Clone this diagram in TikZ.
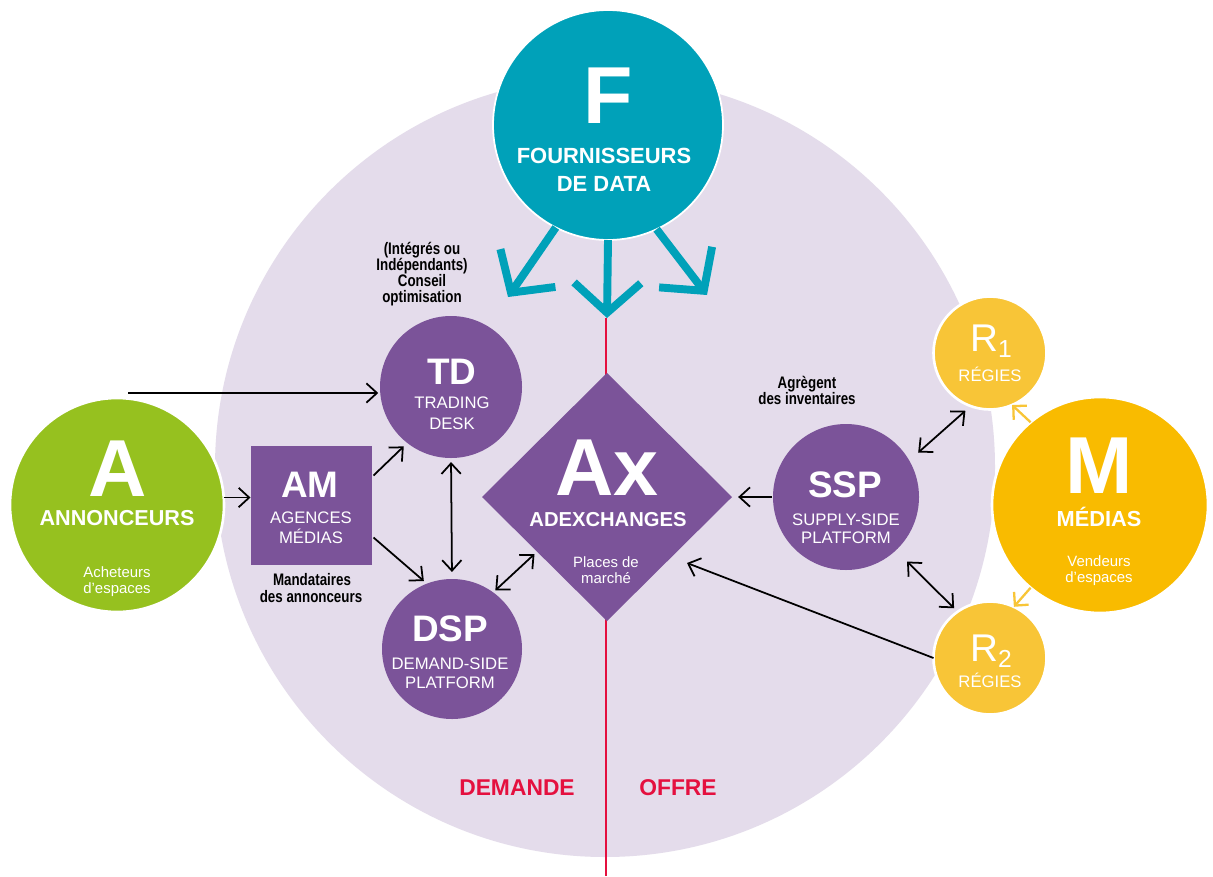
\documentclass[tikz,border=0pt]{standalone}
\usepackage{fontspec}
\setmainfont{Liberation Sans}
\newfontfamily\condfont[FakeStretch=0.8]{Liberation Sans}
\usetikzlibrary{shapes.geometric,arrows.meta,calc}
\definecolor{lav}{HTML}{E4DCEB}
\definecolor{tealc}{HTML}{00A1B9}
\definecolor{purp}{HTML}{7B5399}
\definecolor{grn}{HTML}{96C11F}
\definecolor{gold}{HTML}{F9BB00}
\definecolor{ylw}{HTML}{F8C537}
\definecolor{redl}{HTML}{E4103F}
\def\pxu{0.02cm}
\begin{document}
\begin{tikzpicture}[x=0.02cm,y=-0.02cm,
  ball/.style={circle,inner sep=0pt,outer sep=0pt},
  wring/.style={draw=white,line width=1.5pt},
  lbl/.style={inner sep=0pt,outer sep=0pt,text depth=0pt,text=white},
  bigt/.style={lbl,font=\bfseries\fontsize{46}{46}\selectfont,text height=33pt},
  midt/.style={lbl,font=\bfseries\fontsize{21}{21}\selectfont,text height=15pt},
  rt/.style={lbl,font=\fontsize{22}{22}\selectfont,text height=15.8pt},
  titt/.style={lbl,font=\bfseries\fontsize{12}{12}\selectfont,text height=8.6pt},
  subt/.style={lbl,font=\fontsize{9.5}{9.5}\selectfont,text height=6.8pt},
  smallt/.style={lbl,font=\fontsize{8.5}{8.5}\selectfont,text height=6.1pt},
  condt/.style={lbl,text=black,font=\condfont\bfseries\fontsize{9.5}{9.5}\selectfont,text height=6.8pt},
  sidet/.style={lbl,text=redl,font=\bfseries\fontsize{13}{13}\selectfont,text height=9.3pt},
  arr/.style={draw=black,line width=1pt,-{Straight Barb[length=6pt,width=11pt]}},
  darr/.style={draw=black,line width=1pt,{Straight Barb[length=6pt,width=11pt]}-{Straight Barb[length=6pt,width=11pt]}},
  yarr/.style={draw=ylw,line width=1.3pt,-{Straight Barb[length=5.5pt,width=11pt]}},
  tarr/.style={draw=tealc,line width=4.5pt,-{Straight Barb[length=17pt,width=38pt]}},
]
\fill[white] (0,0) rectangle (1213,876);
\useasboundingbox (0,0) rectangle (1213,876);
% background disc
\node[ball,fill=lav,minimum size=780*\pxu] (bg) at (605,467) {};
% divider
\coordinate (redtop) at (606,318);
\coordinate (redbot) at (606,876);
\draw[redl,line width=1pt] (redtop) -- (redbot);
% F
\node[ball,fill=tealc,draw=white,line width=1pt,minimum size=230*\pxu] (F) at (608,125) {};
\coordinate (tL) at (508,297);
\coordinate (tC) at (607,318);
\coordinate (tR) at (707,295);
\draw[tarr] (F.243) -- (tL);
\draw[tarr] (F.270) -- (tC);
\draw[tarr] (F.295) -- (tR);
% purple nodes
\node[diamond,aspect=1,fill=purp,inner sep=0pt,outer sep=0pt,minimum width=250*\pxu,minimum height=248*\pxu] (Ax) at (607,497) {};
\node[ball,fill=purp,minimum size=142*\pxu] (TD) at (451,387) {};
\node[ball,fill=purp,minimum size=140*\pxu] (DSP) at (452,649) {};
\node[ball,fill=purp,minimum size=146*\pxu] (SSP) at (846,497) {};
\node[rectangle,fill=purp,inner sep=0pt,outer sep=0pt,minimum width=121*\pxu,minimum height=119*\pxu] (AM) at (311,505) {};
% outer nodes
\node[ball,fill=grn,wring,minimum size=214*\pxu] (A) at (117,505) {};
\node[ball,fill=gold,wring,minimum size=216*\pxu] (M) at (1100,505) {};
\node[ball,fill=ylw,wring,minimum size=113*\pxu] (R1) at (990,353) {};
\node[ball,fill=ylw,wring,minimum size=113*\pxu] (R2) at (990,658) {};
% connectors
\coordinate (src) at (128,393);
\draw[arr,shorten >=1pt] (src) -- (src -| TD.west);
\draw[arr] (A.4) -- (AM.west |- A.4);
\draw[arr,shorten >=2.8pt] ($(AM.north east)+(2,30)$) -- (TD.232);
\draw[arr,shorten >=2.3pt] ($(AM.south east)+(2,-27)$) -- (DSP.111);
\draw[darr,shorten <=2.3pt,shorten >=4pt] (TD.south) -- (DSP.north);
\draw[darr,shorten <=1.7pt,shorten >=2pt] (DSP.54) -- (Ax.218);
\draw[arr,shorten <=0.5pt,shorten >=3.5pt] (SSP.west) -- (Ax.east);
\draw[darr,shorten <=6.8pt,shorten >=4pt] (SSP.30) -- (R1.250);
\draw[darr,shorten <=9pt,shorten >=2.8pt] (SSP.313) -- (R2.125);
\draw[arr] (R2.west) -- ($(Ax.center)+(80,66)$);
\draw[yarr] (M.130) -- (R1.293);
\draw[yarr] (M.230) -- (R2.65);
% texts F
\node[bigt] (Fa) at (608,95) {F};
\node[titt,font=\bfseries\fontsize{12.5}{12.5}\selectfont] (Fb) at (604,156) {FOURNISSEURS};
\node[titt,font=\bfseries\fontsize{12.5}{12.5}\selectfont] (Fc) at (604,184) {DE DATA};
% TD
\node[midt] (TDa) at (452,371) {TD};
\node[subt] (TDb) at (452,403) {TRADING};
\node[subt] (TDc) at (452,424) {DESK};
\node[condt] (c1) at (422,249) {(Intégrés ou};
\node[condt] (c2) at (422,265) {Indépendants)};
\node[condt] (c3) at (422,281) {Conseil};
\node[condt] (c4) at (422,297) {optimisation};
% A
\node[bigt] (Aa) at (118,467.5) {A};
\node[titt,font=\bfseries\fontsize{12.3}{12.3}\selectfont] (Ab) at (117,518) {ANNONCEURS};
\node[smallt] (Ac) at (117,572) {Acheteurs};
\node[smallt] (Ad) at (117,588) {d'espaces};
% AM
\node[midt] (AMa) at (310,484) {AM};
\node[subt] (AMb) at (311,518) {AGENCES};
\node[subt] (AMc) at (311,538) {MÉDIAS};
\node[condt] (AMd) at (312,580) {Mandataires};
\node[condt] (AMe) at (311,597) {des annonceurs};
% DSP
\node[midt] (DSPa) at (450,628) {DSP};
\node[subt] (DSPb) at (450,664) {DEMAND-SIDE};
\node[subt] (DSPc) at (450,682.5) {PLATFORM};
% Ax
\node[bigt] (Axa) at (607,467) {Ax};
\node[titt,font=\bfseries\fontsize{11.5}{11.5}\selectfont] (Axb) at (608,519) {ADEXCHANGES};
\node[smallt] (Axc) at (606,562) {Places de};
\node[smallt] (Axd) at (606,578) {marché};
% SSP
\node[midt] (SSPa) at (845,484) {SSP};
\node[subt] (SSPb) at (846,520) {SUPPLY-SIDE};
\node[subt] (SSPc) at (846,537.5) {PLATFORM};
\node[condt] (SSPd) at (807,382.5) {Agrègent};
\node[condt] (SSPe) at (807,399) {des inventaires};
% R
\node[rt] (R1a) at (991,337.5) {R\raisebox{-3.6pt}{\fontsize{14}{14}\selectfont 1}};
\node[subt] (R1b) at (990,376) {RÉGIES};
\node[rt] (R2a) at (991,647.5) {R\raisebox{-3.6pt}{\fontsize{14}{14}\selectfont 2}};
\node[subt] (R2b) at (990,682) {RÉGIES};
% M
\node[bigt] (Ma) at (1099,465) {M};
\node[titt,font=\bfseries\fontsize{12.4}{12.4}\selectfont] (Mb) at (1099,519) {MÉDIAS};
\node[smallt] (Mc) at (1099,561) {Vendeurs};
\node[smallt] (Md) at (1099,577) {d'espaces};
% sides
\node[sidet] (dem) at (517,787) {DEMANDE};
\node[sidet] (off) at (678,787) {OFFRE};
\end{tikzpicture}
\end{document}
